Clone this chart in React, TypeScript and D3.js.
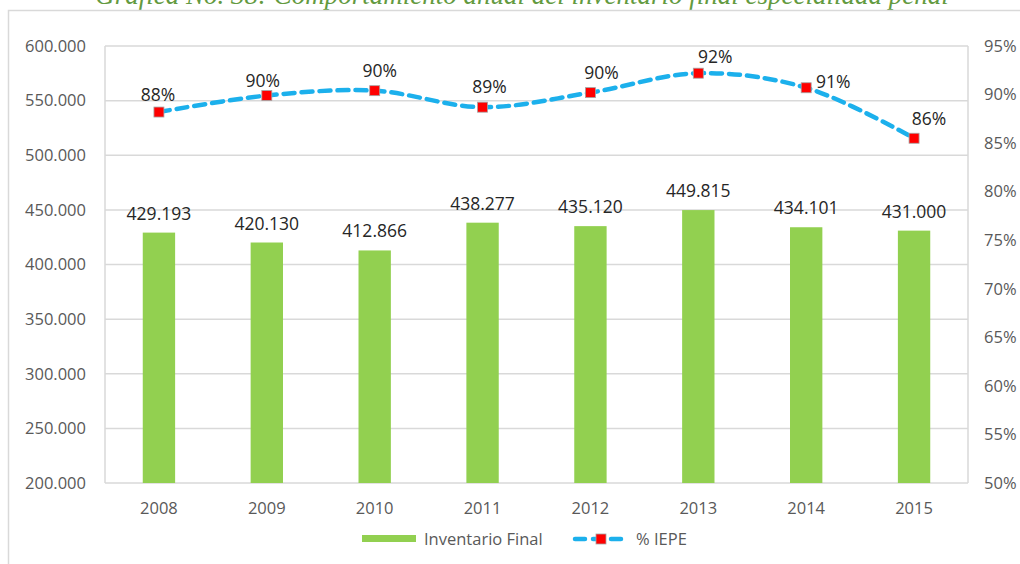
import React from "react";
import * as d3 from "d3";

const years = ["2008", "2009", "2010", "2011", "2012", "2013", "2014", "2015"];
const inventario = [429193, 420130, 412866, 438277, 435120, 449815, 434101, 431000];
const iepe = [88.2, 89.9, 90.4, 88.7, 90.2, 92.2, 90.7, 85.5];
const iepeLabels = ["88%", "90%", "90%", "89%", "90%", "92%", "91%", "86%"];
const leftTicks = [200000, 250000, 300000, 350000, 400000, 450000, 500000, 550000, 600000];
const rightTicks = [50, 55, 60, 65, 70, 75, 80, 85, 90, 95];

// layout: label placement offsets of the % labels relative to their markers
const pctLabelDx = [-1, -4, 5, 7, 11, 17, 27, 15];
const pctLabelDy = [-11, -9, -14, -14, -14, -10, 0, -13];

const fmt = (v: number) => d3.format(",")(v).replace(/,/g, ".");

export default function App() {
  const W = 1020, H = 564;
  const left = 105, right = 968, top = 46, bottom = 483;
  const x = d3.scaleBand().domain(years).range([left, right]).paddingInner(0.7).paddingOuter(0.35);
  const xc = (y: string) => (x(y) as number) + x.bandwidth() / 2;
  const yL = d3.scaleLinear().domain([200000, 600000]).range([bottom, top]);
  const yR = d3.scaleLinear().domain([50, 95]).range([bottom, top]);
  const line = d3.line<number>().x((_, i) => xc(years[i])).y((d) => yR(d)).curve(d3.curveCatmullRom.alpha(0.5));
  const font = "'Open Sans', sans-serif";
  return (
    <svg width={W} height={H} style={{ position: "absolute", left: 0, top: 0 }} fontFamily={font}>
      <rect x={0} y={0} width={W} height={H} fill="#fff" />
      <text x={522} y={4} textAnchor="middle" fontFamily="'Liberation Serif', serif" fontStyle="italic" fontSize={27} fill="#639a40">
        Gráfica No. 38: Comportamiento anual del inventario final especialidad penal
      </text>
      <rect x={8.5} y={10.5} width={1030} height={600} fill="none" stroke="#d9d9d9" strokeWidth={1.5} />
      {leftTicks.map((t) => (
        <line key={t} x1={left} x2={right} y1={yL(t)} y2={yL(t)} stroke="#d9d9d9" strokeWidth={1.5} />
      ))}
      <line x1={left} x2={left} y1={top} y2={bottom} stroke="#d9d9d9" strokeWidth={1.5} />
      <line x1={right} x2={right} y1={top} y2={bottom} stroke="#d9d9d9" strokeWidth={1.5} />
      {leftTicks.map((t) => (
        <text key={t} x={86} y={yL(t)} dy="0.35em" textAnchor="end" fontSize={16.5} fill="#595959">{fmt(t)}</text>
      ))}
      {rightTicks.map((t) => (
        <text key={t} x={984} y={yR(t)} dy="0.35em" textAnchor="start" fontSize={16.5} fill="#595959">{t}%</text>
      ))}
      {years.map((y) => (
        <text key={y} x={xc(y)} y={508} dy="0.35em" textAnchor="middle" fontSize={16.5} fill="#595959">{y}</text>
      ))}
      {inventario.map((v, i) => (
        <g key={i}>
          <rect x={x(years[i])} y={yL(v)} width={x.bandwidth()} height={bottom - yL(v)} fill="#92d050" />
          <text x={xc(years[i])} y={yL(v) - 13} textAnchor="middle" fontSize={17.5} fill="#262626">{fmt(v)}</text>
        </g>
      ))}
      <path d={line(iepe) || ""} fill="none" stroke="#1cb0ec" strokeWidth={4.5} strokeDasharray="11 7" strokeLinecap="round" />
      {iepe.map((v, i) => (
        <g key={i}>
          <rect x={xc(years[i]) - 5} y={yR(v) - 5} width={10} height={10} fill="#ff0000" stroke="#a5a5a5" strokeWidth={0.8} />
          <text x={xc(years[i]) + pctLabelDx[i]} y={yR(v) + pctLabelDy[i]} textAnchor="middle" fontSize={17.5} fill="#262626">{iepeLabels[i]}</text>
        </g>
      ))}
      <rect x={362} y={535} width={54} height={7} fill="#92d050" />
      <text x={424} y={539} dy="0.35em" fontSize={16.5} fill="#595959">Inventario Final</text>
      <line x1={575} x2={627} y1={539} y2={539} stroke="#1cb0ec" strokeWidth={4.5} strokeDasharray="10 8" strokeLinecap="round" />
      <rect x={596} y={534} width={10} height={10} fill="#ff0000" stroke="#a5a5a5" strokeWidth={0.8} />
      <text x={636} y={539} dy="0.35em" fontSize={16.5} fill="#595959">% IEPE</text>
    </svg>
  );
}
